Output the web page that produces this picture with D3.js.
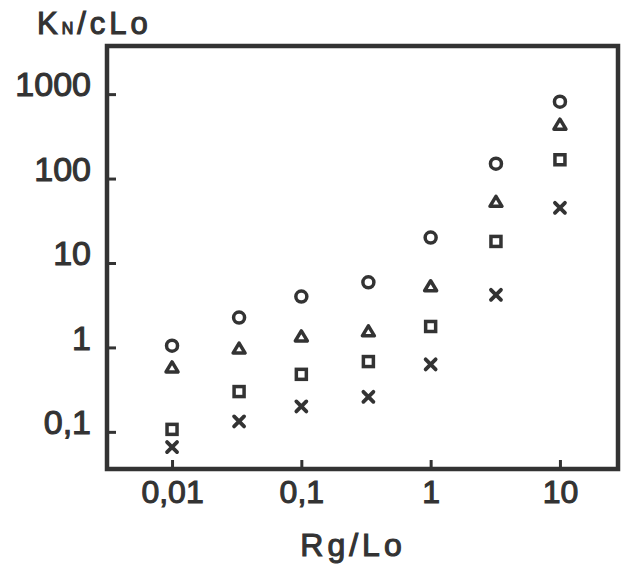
<!DOCTYPE html>
<html>
<head>
<meta charset="utf-8">
<script src="https://cdn.jsdelivr.net/npm/d3@7"></script>
<style>
  body { margin: 0; background: #fff; }
  svg text { font-family: "Liberation Sans", Arial, sans-serif; fill: #333; stroke: #333; stroke-width: 1.1px; }
</style>
</head>
<body>
<svg id="chart" width="624" height="574"></svg>
<script>
// Rg/Lo positions of the seven columns
const rgLo = [0.01, 0.033, 0.1, 0.33, 1, 3.2, 10];

// K_N/cLo values, one array per marker type
const circleVals   = [1.05, 2.26, 4.0, 5.9, 20, 150, 815];
const triangleVals = [0.58, 0.97, 1.35, 1.55, 5.3, 53, 435];
const squareVals   = [0.107, 0.30, 0.48, 0.68, 1.77, 18, 167];
const crossVals    = [0.066, 0.133, 0.20, 0.26, 0.63, 4.2, 45];

const xTicks = [0.01, 0.1, 1, 10];
const xTickLabels = ["0,01", "0,1", "1", "10"];
const yTicks = [0.1, 1, 10, 100, 1000];
const yTickLabels = ["0,1", "1", "10", "100", "1000"];

const ink = "#333";

// frame of the plot
const frameL = 107, frameR = 618, frameT = 46, frameB = 469;

const x = d3.scaleLog()
  .domain([Math.pow(10, -2.503), Math.pow(10, 1.449)])
  .range([frameL, frameR]);

const y = d3.scaleLog()
  .domain([Math.pow(10, -1.44), Math.pow(10, 3.57)])
  .range([frameB, frameT]);

const svg = d3.select("#chart");

// y axis, ticks pointing inward
const yAxis = svg.append("g")
  .attr("transform", `translate(${frameL},0)`)
  .call(d3.axisLeft(y)
    .tickValues(yTicks)
    .tickFormat((d, i) => yTickLabels[i])
    .tickSize(-9)
    .tickPadding(16));
yAxis.select(".domain").remove();
yAxis.selectAll(".tick line").attr("stroke", ink).attr("stroke-width", 3);
yAxis.selectAll(".tick text")
  .attr("dy", "0.05em")
  .style("font-size", "34px")
  .attr("fill", ink);

// x axis, ticks pointing inward
const xAxis = svg.append("g")
  .attr("transform", `translate(0,${frameB})`)
  .call(d3.axisBottom(x)
    .tickValues(xTicks)
    .tickFormat((d, i) => xTickLabels[i])
    .tickSize(-9)
    .tickPadding(11));
xAxis.select(".domain").remove();
xAxis.selectAll(".tick line").attr("stroke", ink).attr("stroke-width", 3);
xAxis.selectAll(".tick text")
  .style("font-size", "32px")
  .attr("fill", ink);

// frame
svg.append("rect")
  .attr("x", frameL)
  .attr("y", frameT)
  .attr("width", frameR - frameL)
  .attr("height", frameB - frameT)
  .attr("fill", "none")
  .attr("stroke", ink)
  .attr("stroke-width", 4.5);

// axis titles
const yTitle = svg.append("text")
  .attr("x", 37)
  .attr("y", 34)
  .style("font-size", "31px")
  .style("letter-spacing", "4px");
yTitle.append("tspan").text("K");
yTitle.append("tspan").style("font-size", "16px").text("N");
yTitle.append("tspan").text("/cLo");

svg.append("text")
  .attr("x", 353)
  .attr("y", 556)
  .attr("text-anchor", "middle")
  .style("font-size", "32px")
  .style("letter-spacing", "4px")
  .text("Rg/Lo");

// markers
const pts = vals => rgLo.map((r, i) => ({ r, v: vals[i] }));

svg.append("g").selectAll("circle")
  .data(pts(circleVals))
  .join("circle")
  .attr("cx", d => x(d.r))
  .attr("cy", d => y(d.v))
  .attr("r", 5.5)
  .attr("fill", "none")
  .attr("stroke", ink)
  .attr("stroke-width", 3.5);

svg.append("g").selectAll("path")
  .data(pts(triangleVals))
  .join("path")
  .attr("transform", d => `translate(${x(d.r)},${y(d.v)})`)
  .attr("d", "M0,-5.5L6,4.5L-6,4.5Z")
  .attr("fill", "none")
  .attr("stroke", ink)
  .attr("stroke-width", 3.5)
  .attr("stroke-linejoin", "round");

svg.append("g").selectAll("rect")
  .data(pts(squareVals))
  .join("rect")
  .attr("x", d => x(d.r) - 5)
  .attr("y", d => y(d.v) - 5)
  .attr("width", 10)
  .attr("height", 10)
  .attr("fill", "none")
  .attr("stroke", ink)
  .attr("stroke-width", 3.5);

svg.append("g").selectAll("path")
  .data(pts(crossVals))
  .join("path")
  .attr("transform", d => `translate(${x(d.r)},${y(d.v)})`)
  .attr("d", "M-5,-5L5,5M5,-5L-5,5")
  .attr("stroke", ink)
  .attr("stroke-width", 3.8)
  .attr("stroke-linecap", "round");
</script>
</body>
</html>
